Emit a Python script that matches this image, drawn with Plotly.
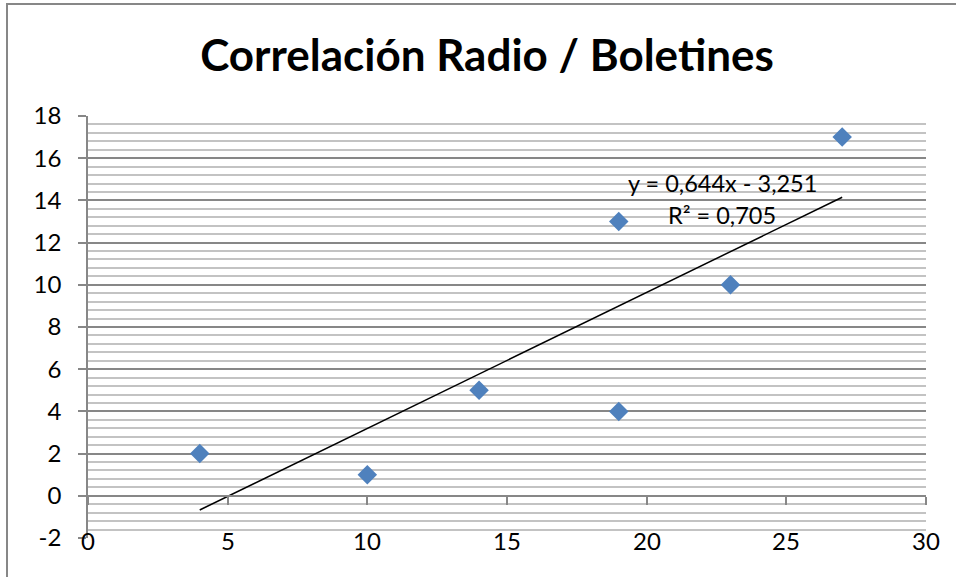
import plotly.graph_objects as go

# Data
radio = [4, 10, 14, 19, 19, 23, 27]
boletines = [2, 1, 5, 13, 4, 10, 17]
x_ticks = [0, 5, 10, 15, 20, 25, 30]
x_tick_labels = ["0", "5", "10", "15", "20", "25", "30"]
y_ticks = [-2, 0, 2, 4, 6, 8, 10, 12, 14, 16, 18]
y_tick_labels = ["-2", "0", "2", "4", "6", "8", "10", "12", "14", "16", "18"]
title_text = "Correlación Radio / Boletines"
eq_text = "y = 0,644x - 3,251"
r2_text = "R² = 0,705"

# Linear trendline (least squares)
n = len(radio)
mx = sum(radio) / n
my = sum(boletines) / n
sxy = sum((a - mx) * (b - my) for a, b in zip(radio, boletines))
sxx = sum((a - mx) ** 2 for a in radio)
slope = sxy / sxx
intercept = my - slope * mx
trend_x = [min(radio), max(radio)]
trend_y = [slope * v + intercept for v in trend_x]

W, H = 956, 577
ML, MR, MT, MB = 88, 30, 116, 39
PW = W - ML - MR
PH = H - MT - MB

FONT = "Lato"
GRID_MAJOR = "#878787"
GRID_MINOR = "#c3c3c3"

fig = go.Figure()
fig.add_trace(go.Scatter(
    x=trend_x, y=trend_y, mode="lines",
    line=dict(color="black", width=1.5), showlegend=False, hoverinfo="skip"))
fig.add_trace(go.Scatter(
    x=radio, y=boletines, mode="markers",
    marker=dict(symbol="diamond", size=15, color="#4F81BD", line=dict(width=0)),
    showlegend=False))

annotations = []
for v, t in zip(x_ticks, x_tick_labels):
    annotations.append(dict(x=v, y=-2, xref="x", yref="y", text=t, showarrow=False,
                            xanchor="center", yanchor="middle", yshift=-2,
                            font=dict(family=FONT, size=24, color="black")))
annotations.append(dict(x=(722 - ML) / PW, y=(MT + PH - 183) / PH, xref="paper", yref="paper",
                        text=eq_text, showarrow=False, xanchor="center", yanchor="middle",
                        font=dict(family=FONT, size=23.5, color="black")))
annotations.append(dict(x=(722 - ML) / PW, y=(MT + PH - 215) / PH, xref="paper", yref="paper",
                        text=r2_text, showarrow=False, xanchor="center", yanchor="middle",
                        font=dict(family=FONT, size=23.5, color="black")))

shapes = [
    dict(type="rect", xref="paper", yref="paper",
         x0=(7 - ML) / PW, x1=(W + 10 - ML) / PW,
         y0=(MT + PH - (H + 10)) / PH, y1=(MT + PH - 4) / PH,
         line=dict(color="#878787", width=2), fillcolor="rgba(0,0,0,0)", layer="below"),
]

fig.update_layout(
    width=W, height=H, autosize=False,
    margin=dict(l=ML, r=MR, t=MT, b=MB, pad=0),
    paper_bgcolor="white", plot_bgcolor="white",
    title=dict(text="<b>" + title_text + "</b>", x=487 / W, xanchor="center",
               y=1 - 56 / H, yanchor="middle", xref="container", yref="container",
               font=dict(family=FONT, size=44, color="black")),
    annotations=annotations,
    shapes=shapes,
    xaxis=dict(range=[0, 30], tickvals=x_ticks, showticklabels=False,
               showgrid=False, zeroline=False, showline=True, linecolor=GRID_MAJOR,
               linewidth=1.5, ticks="outside", ticklen=8, tickcolor=GRID_MAJOR, tickwidth=1.5,
               anchor="free", position=(0 - (-2)) / 20, fixedrange=True),
    yaxis=dict(range=[-2, 18], tickvals=y_ticks, ticktext=y_tick_labels,
               showgrid=True, gridcolor=GRID_MAJOR, gridwidth=1.5,
               minor=dict(dtick=0.4, tick0=-2, showgrid=True, gridcolor=GRID_MINOR, gridwidth=1.5),
               zeroline=False, showline=True, linecolor=GRID_MAJOR, linewidth=1.5,
               ticks="outside", ticklen=8, tickcolor=GRID_MAJOR, tickwidth=1.5,
               ticklabelstandoff=12,
               tickfont=dict(family=FONT, size=24, color="black"), fixedrange=True),
)

fig.write_html("out.html")
